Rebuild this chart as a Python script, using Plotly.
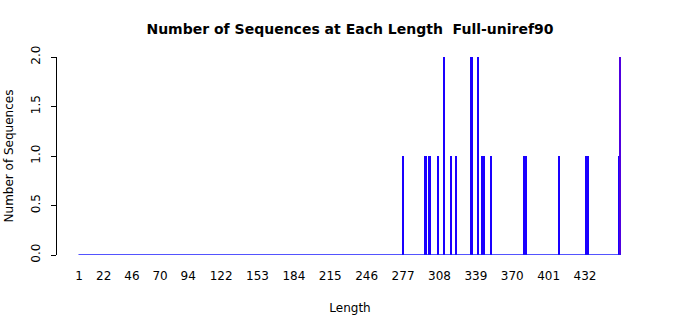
import plotly.graph_objects as go

# Data: sequence length -> number of sequences
lengths = [277, 296, 297, 299, 300, 307, 312, 318, 322, 335, 336, 341, 344, 346, 352,
           380, 382, 410, 433, 435, 461]
counts = [1, 1, 1, 1, 1, 1, 2, 1, 1, 2, 2, 2, 1, 1, 1,
          1, 1, 1, 1, 1, 1]
full_length = [462]
full_count = [2]

max_len = 462
tick_labels = [1, 22, 46, 70, 94, 122, 153, 184, 215, 246, 277, 308, 339, 370, 401, 432]
y_ticks = [0, 0.5, 1.0, 1.5, 2.0]

FONT = "DejaVu Sans"

fig = go.Figure()
fig.add_trace(go.Bar(x=lengths, y=counts, width=1.0,
                     marker=dict(color="#1a00ff", line=dict(width=0))))
fig.add_trace(go.Bar(x=full_length, y=full_count, width=1.0,
                     marker=dict(color="#5000e0", line=dict(width=0))))

# zero-height bars baseline (as drawn by barplot borders)
fig.add_shape(type="line", xref="x", yref="y", x0=0.5, x1=max_len + 0.5, y0=0, y1=0,
              line=dict(color="#1a1aff", width=1.4))

fig.update_layout(
    width=700, height=315,
    margin=dict(l=57, r=57, t=57, b=60, autoexpand=False),
    paper_bgcolor="white", plot_bgcolor="white",
    showlegend=False, bargap=0,
    font=dict(family=FONT, size=12, color="black"),
    title=dict(text="<b>Number of Sequences at Each Length \u00a0Full-uniref90</b>",
               x=0.5, xref="container", xanchor="center",
               y=1 - 29 / 315, yref="container", yanchor="middle",
               font=dict(family=FONT, size=14, color="black")),
    xaxis=dict(range=[-17.8, 481.4], tickmode="array", tickvals=tick_labels,
               ticktext=[str(v) for v in tick_labels], automargin=False,
               showgrid=False, zeroline=False, showline=False,
               ticks="outside", ticklen=10, tickcolor="rgba(0,0,0,0)",
               tickfont=dict(size=12, color="black"),
               title=dict(text="Length", standoff=21, font=dict(size=12, color="black"))),
    yaxis=dict(range=[0, 2], tickmode="array", tickvals=y_ticks,
               ticktext=["0.0", "0.5", "1.0", "1.5", "2.0"], automargin=False,
               showgrid=False, zeroline=False, showline=True, linecolor="black", linewidth=1,
               ticks="outside", ticklen=5, tickcolor="black", tickangle=-90,
               ticklabelstandoff=6,
               tickfont=dict(size=12, color="black"),
               title=dict(text="Number of Sequences", standoff=13, font=dict(size=12, color="black"))),
)

fig.write_html("out.html")
